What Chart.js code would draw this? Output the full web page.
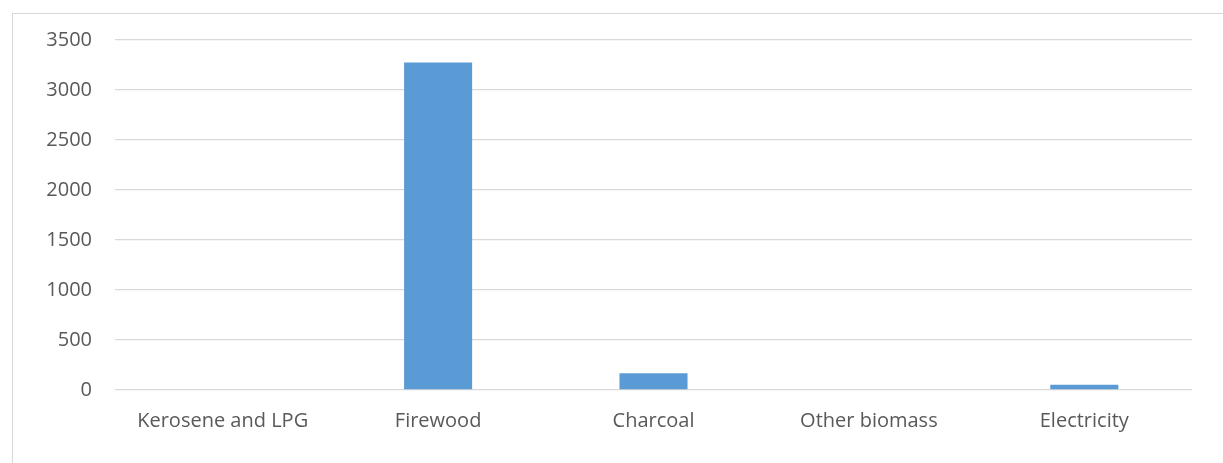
<!DOCTYPE html>
<html>
<head>
<meta charset="utf-8">
<script src="https://cdn.jsdelivr.net/npm/chart.js@4/dist/chart.umd.min.js"></script>
<style>
  html, body { margin: 0; padding: 0; background: #fff; overflow: hidden; }
  #frame { position: absolute; left: 12px; top: 13px; width: 1215px; height: 470px; border: 1px solid #d9d9d9; box-sizing: border-box; }
  #c { position: absolute; left: 0; top: 0; }
</style>
</head>
<body>
<div id="frame"></div>
<canvas id="c" width="1223" height="463"></canvas>
<script>
// fuel types and values
const fuels = ["Kerosene and LPG", "Firewood", "Charcoal", "Other biomass", "Electricity"];
const amounts = [0, 3275, 168, 0, 52];
const yTicks = [0, 500, 1000, 1500, 2000, 2500, 3000, 3500];

const tickFont = { family: "'Open Sans', 'Liberation Sans', sans-serif", size: 20 };

new Chart(document.getElementById("c").getContext("2d"), {
  type: "bar",
  data: {
    labels: fuels,
    datasets: [{
      data: amounts,
      backgroundColor: "#5b9bd5",
      borderWidth: 0,
      barPercentage: 1,
      categoryPercentage: 0.316
    }]
  },
  options: {
    responsive: false,
    animation: false,
    layout: { padding: { top: 40, right: 31, left: 0, bottom: 0 } },
    plugins: { legend: { display: false }, tooltip: { enabled: false } },
    scales: {
      x: {
        grid: { display: false, drawTicks: false },
        border: { display: false },
        ticks: { color: "#595959", font: tickFont, padding: 19, maxRotation: 0 },
        afterFit: function(scale) { scale.height = 73; }
      },
      y: {
        min: 0,
        max: 3500,
        afterBuildTicks: function(scale) { scale.ticks = yTicks.map(v => ({ value: v })); },
        grid: { color: "#d9d9d9", lineWidth: 1.3, drawTicks: false },
        border: { display: false },
        ticks: { color: "#595959", font: tickFont, padding: 23, callback: v => String(v) },
        afterFit: function(scale) { scale.width = 115; }
      }
    }
  }
});
</script>
</body>
</html>
